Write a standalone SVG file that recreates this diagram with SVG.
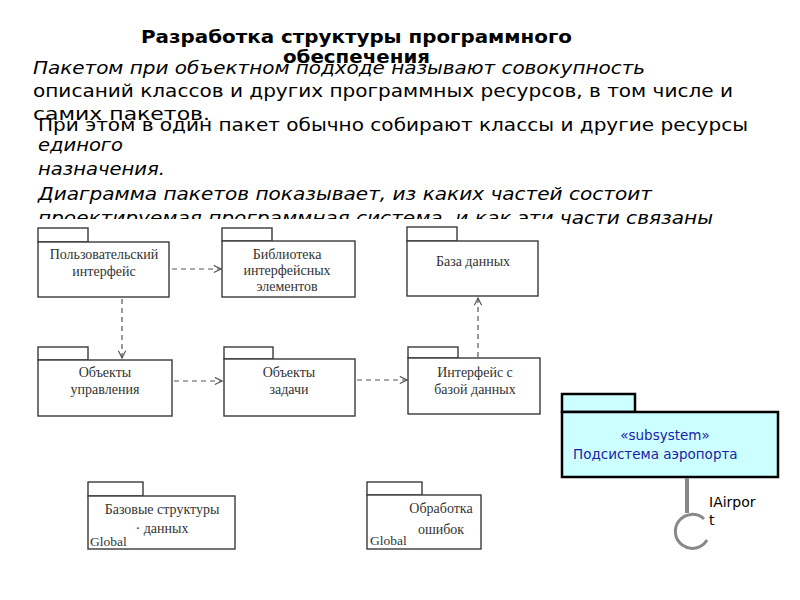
<svg xmlns="http://www.w3.org/2000/svg" width="800" height="600" viewBox="0 0 800 600">
<style>
.title{font-family:"DejaVu Sans","Liberation Sans",sans-serif;font-weight:bold;font-size:17px;fill:#000}
.p{font-family:"DejaVu Sans","Liberation Sans",sans-serif;font-size:17.5px;fill:#000}
.i{font-style:italic}
.pk{fill:#fff;stroke:#3a3a3a;stroke-width:1.4}
.lbl{font-family:"Liberation Serif","DejaVu Serif",serif;font-size:14px;fill:#333;text-anchor:middle}
.gl{font-family:"Liberation Serif","DejaVu Serif",serif;font-size:13.5px;fill:#333}
.dep{fill:none;stroke:#555;stroke-width:1.2;stroke-dasharray:5 4}
.sub{fill:#ccffff;stroke:#000;stroke-width:2.5}
.st{font-family:"DejaVu Sans","Liberation Sans",sans-serif;font-size:13.5px;fill:#1c1ca8}
.ifc{font-family:"DejaVu Sans","Liberation Sans",sans-serif;font-size:14px;fill:#000}
</style>
<defs>
<marker id="open" viewBox="0 0 10 10" refX="9" refY="5" markerWidth="9" markerHeight="9" markerUnits="userSpaceOnUse" orient="auto">
<path d="M1,1 L9,5 L1,9" fill="none" stroke="#555" stroke-width="1.3"/>
</marker>
</defs>
<rect width="800" height="600" fill="#fff"/>
<g id="text">
<text class="title" x="141" y="43" textLength="431" lengthAdjust="spacingAndGlyphs">Разработка структуры программного</text>
<text class="title" x="283" y="63" textLength="147" lengthAdjust="spacingAndGlyphs">обеспечения</text>
<text class="p i" x="33" y="74" textLength="612" lengthAdjust="spacingAndGlyphs">Пакетом при объектном подходе называют совокупность</text>
<text class="p" x="33" y="97" textLength="700" lengthAdjust="spacingAndGlyphs">описаний классов и других программных ресурсов, в том числе и</text>
<text class="p" x="33" y="120" textLength="177" lengthAdjust="spacingAndGlyphs">самих пакетов.</text>
<text class="p" x="38" y="131" textLength="710" lengthAdjust="spacingAndGlyphs">При этом в один пакет обычно собирают классы и другие ресурсы</text>
<text class="p i" x="38" y="151" textLength="85" lengthAdjust="spacingAndGlyphs">единого</text>
<text class="p i" x="38" y="175" textLength="127" lengthAdjust="spacingAndGlyphs">назначения.</text>
<text class="p i" x="38" y="200" textLength="614" lengthAdjust="spacingAndGlyphs">Диаграмма пакетов показывает, из каких частей состоит</text>
<text class="p i" x="38" y="224" textLength="675" lengthAdjust="spacingAndGlyphs">проектируемая программная система, и как эти части связаны</text>
</g>
<rect x="35" y="219" width="518" height="345" fill="#fff"/>
<g id="connectors">
<line class="dep" x1="172" y1="269" x2="221" y2="269" marker-end="url(#open)"/>
<line class="dep" x1="122" y1="299" x2="122" y2="358" marker-end="url(#open)"/>
<line class="dep" x1="174" y1="381" x2="222" y2="381" marker-end="url(#open)"/>
<line class="dep" x1="357" y1="380" x2="407" y2="380" marker-end="url(#open)"/>
<line class="dep" x1="478" y1="357" x2="478" y2="298" marker-end="url(#open)"/>
</g>
<g id="pkg-ui">
<rect class="pk" x="38" y="228" width="50" height="14"/>
<rect class="pk" x="38" y="242" width="131" height="55"/>
<text class="lbl" x="104" y="259">Пользовательский</text>
<text class="lbl" x="104" y="276">интерфейс</text>
</g>
<g id="pkg-lib">
<rect class="pk" x="222" y="228" width="50" height="13"/>
<rect class="pk" x="222" y="241" width="133" height="56"/>
<text class="lbl" x="287" y="259">Библиотека</text>
<text class="lbl" x="287" y="275">интерфейсных</text>
<text class="lbl" x="287" y="291">элементов</text>
</g>
<g id="pkg-db">
<rect class="pk" x="407" y="227" width="50" height="14"/>
<rect class="pk" x="407" y="241" width="131" height="55"/>
<text class="lbl" x="473" y="266">База данных</text>
</g>
<g id="pkg-ctrl">
<rect class="pk" x="38" y="347" width="50" height="13"/>
<rect class="pk" x="38" y="360" width="134" height="56"/>
<text class="lbl" x="105" y="377">Объекты</text>
<text class="lbl" x="105" y="394">управления</text>
</g>
<g id="pkg-task">
<rect class="pk" x="224" y="347" width="49" height="12"/>
<rect class="pk" x="224" y="359" width="131" height="57"/>
<text class="lbl" x="289" y="377">Объекты</text>
<text class="lbl" x="289" y="394">задачи</text>
</g>
<g id="pkg-dbif">
<rect class="pk" x="408" y="347" width="50" height="11"/>
<rect class="pk" x="408" y="358" width="132" height="56"/>
<text class="lbl" x="475" y="377">Интерфейс с</text>
<text class="lbl" x="475" y="394">базой данных</text>
</g>
<g id="pkg-base">
<rect class="pk" x="88" y="482" width="55" height="14"/>
<rect class="pk" x="88" y="496" width="147" height="53"/>
<text class="lbl" x="162" y="514">Базовые структуры</text>
<text class="lbl" x="162" y="533">·  данных</text>
<text class="gl" x="90" y="546">Global</text>
</g>
<g id="pkg-err">
<rect class="pk" x="367" y="482" width="55" height="13"/>
<rect class="pk" x="367" y="495" width="114" height="54"/>
<text class="lbl" x="441" y="513">Обработка</text>
<text class="lbl" x="441" y="534">ошибок</text>
<text class="gl" x="370" y="545">Global</text>
</g>
<g id="subsystem">
<rect class="sub" x="562" y="394" width="73" height="18"/>
<rect class="sub" x="562" y="412" width="216" height="65"/>
<text class="st" x="665" y="440" text-anchor="middle">«subsystem»</text>
<text class="st" x="573" y="459">Подсистема аэропорта</text>
</g>
<g id="iairport">
<line x1="687" y1="478" x2="687" y2="513" stroke="#888" stroke-width="4"/>
<path d="M704,519 A17,17 0 1 0 707,540" fill="none" stroke="#888" stroke-width="3"/>
<text class="ifc" x="709" y="507">IAirpor</text>
<text class="ifc" x="709" y="525">t</text>
</g>
</svg>
